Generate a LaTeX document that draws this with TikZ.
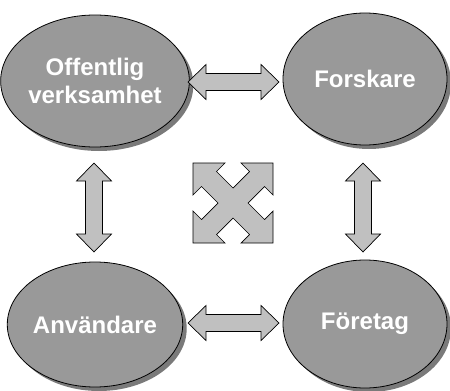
\documentclass[tikz,border=0pt]{standalone}
\usepackage{fontspec}
\setmainfont{Liberation Sans}
\usetikzlibrary{shapes.geometric,shadows,calc}

\definecolor{ovalgray}{RGB}{153,153,153}
\definecolor{shadegray}{RGB}{122,122,122}
\definecolor{arrowgray}{RGB}{192,192,192}

\newcommand{\headlen}{18pt}
\newcommand{\headhw}{17.5pt}
\newcommand{\shafthw}{8.5pt}
\newcommand{\fatarrow}[2]{%
    \draw[arrowbody] (#1)
        -- ($(#1)!\headlen!(#2)!\headhw!90:(#2)$)
        -- ($(#1)!\headlen!(#2)!\shafthw!90:(#2)$)
        -- ($(#2)!\headlen!(#1)!\shafthw!-90:(#1)$)
        -- ($(#2)!\headlen!(#1)!\headhw!-90:(#1)$)
        -- (#2)
        -- ($(#2)!\headlen!(#1)!\headhw!90:(#1)$)
        -- ($(#2)!\headlen!(#1)!\shafthw!90:(#1)$)
        -- ($(#1)!\headlen!(#2)!\shafthw!-90:(#2)$)
        -- ($(#1)!\headlen!(#2)!\headhw!-90:(#2)$)
        -- cycle;}

\begin{document}
\begin{tikzpicture}[
        x=1pt, y=-1pt,
        oval/.style={ellipse, draw=black, line width=0.8pt, fill=ovalgray,
            text=white, font=\bfseries\fontsize{24}{28}\selectfont,
            align=center, inner sep=0pt,
            drop shadow={shadow xshift=4pt, shadow yshift=-4pt, fill=shadegray, opacity=1}},
        arrowbody/.style={draw=black, line width=0.7pt, fill=arrowgray, line join=miter},
    ]
    \useasboundingbox (0,0) rectangle (450,391);
    \node[oval, minimum width=168pt, minimum height=132pt] (offentlig) at (95,81)
        {Offentlig\\verksamhet};
    \node[oval, minimum width=164pt, minimum height=132pt] (forskare) at (365,79) {Forskare};
    \node[oval, minimum width=170pt, minimum height=125pt] (anvandare) at (95,324.5) {Användare};
    \node[oval, minimum width=164pt, minimum height=128pt] (foretag) at (365,324) {Företag};

    \coordinate (topL) at (188,82);   \coordinate (topR) at (279,82);
    \coordinate (botL) at (188,323);  \coordinate (botR) at (279,323);
    \coordinate (leftT) at (94,163);  \coordinate (leftB) at (94,252);
    \coordinate (rightT) at (363,163); \coordinate (rightB) at (363,252);
    \fatarrow{topL}{topR}
    \fatarrow{botL}{botR}
    \fatarrow{leftT}{leftB}
    \fatarrow{rightT}{rightB}

    % four-way arrow in the middle
    \coordinate (hub) at (233,203);
    \draw[arrowbody, shift={(hub)}] (-40,-40) -- (-8,-40) -- (-16.5,-31.5) -- (0,-15)
        -- (16.5,-31.5) -- (8,-40) -- (40,-40) -- (40,-8) -- (31.5,-16.5) -- (15,0)
        -- (31.5,16.5) -- (40,8) -- (40,40) -- (8,40) -- (16.5,31.5) -- (0,15)
        -- (-16.5,31.5) -- (-8,40) -- (-40,40) -- (-40,8) -- (-31.5,16.5) -- (-15,0)
        -- (-31.5,-16.5) -- (-40,-8) -- cycle;
\end{tikzpicture}
\end{document}
